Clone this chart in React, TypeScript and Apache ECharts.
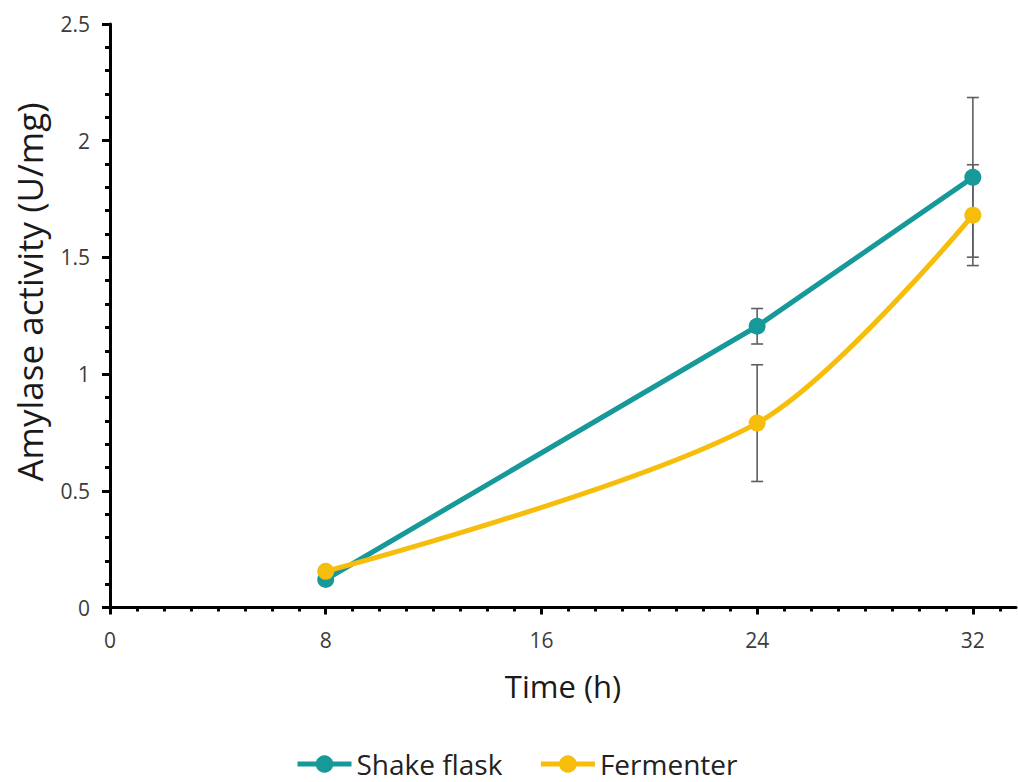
import React, { useEffect, useRef } from "react";
import * as echarts from "echarts";

const timePoints = [8, 24, 32];
const shakeFlask = [0.12, 1.205, 1.843];
const fermenter = [0.155, 0.79, 1.681];
const shakeFlaskErr = [0, 0.076, 0.342];
const fermenterErr = [0, 0.25, 0.216];

const xMajorTicks = [0, 8, 16, 24, 32];
const xMinorTicks = [0, 1, 2, 3, 4, 5, 6, 7, 8, 9, 10, 11, 12, 13, 14, 15, 16, 17, 18, 19, 20, 21, 22, 23, 24, 25, 26, 27, 28, 29, 30, 31, 32, 33];

const TEAL = "#17999A";
const GOLD = "#F7BD0B";
const FONT = "Open Sans";

function errorSeries(name: string, values: number[], errs: number[]) {
  const data = timePoints.map((t, i) => [t, values[i], errs[i]]);
  return {
    type: "custom",
    name: name + " error",
    xAxisIndex: 0,
    yAxisIndex: 0,
    z: 1,
    silent: true,
    data,
    renderItem: (params: any, api: any) => {
      const x = api.value(0);
      const y = api.value(1);
      const e = api.value(2);
      if (!e) return { type: "group", children: [] };
      const top = api.coord([x, y + e]);
      const bot = api.coord([x, y - e]);
      const cap = 6;
      const style = { stroke: "#5f5f5f", lineWidth: 1.6 };
      return {
        type: "group",
        children: [
          { type: "line", shape: { x1: top[0], y1: top[1], x2: bot[0], y2: bot[1] }, style },
          { type: "line", shape: { x1: top[0] - cap, y1: top[1], x2: top[0] + cap, y2: top[1] }, style },
          { type: "line", shape: { x1: bot[0] - cap, y1: bot[1], x2: bot[0] + cap, y2: bot[1] }, style },
        ],
      };
    },
  };
}

export default function App() {
  const ref = useRef<HTMLDivElement>(null);
  useEffect(() => {
    if (!ref.current) return;
    const chart = echarts.init(ref.current, undefined, { renderer: "svg" });
    const axisCommon = {
      type: "value",
      min: 0,
      max: 33.6,
      position: "bottom",
      splitLine: { show: false },
    };
    chart.setOption({
      animation: false,
      backgroundColor: "#ffffff",
      grid: { left: 110, right: 2, top: 24, bottom: 174.5, containLabel: false },
      legend: {
        data: ["Shake flask", "Fermenter"],
        left: 290,
        top: 745,
        itemWidth: 54,
        itemHeight: 22,
        itemGap: 36,
        lineStyle: { width: 5 },
        textStyle: { fontFamily: FONT, fontSize: 28, color: "#222222" },
      },
      xAxis: [
        {
          ...axisCommon,
          axisLine: { show: true, lineStyle: { color: "#000", width: 3 } },
          axisTick: { show: true, length: 7, customValues: xMajorTicks, lineStyle: { color: "#000", width: 3 } },
          axisLabel: {
            show: true,
            customValues: xMajorTicks,
            margin: 22,
            fontFamily: FONT,
            fontSize: 21,
            color: "#3c3c3c",
          },
          name: "Time (h)",
          nameLocation: "middle",
          nameGap: 63,
          nameTextStyle: { fontFamily: FONT, fontSize: 31, color: "#1a1a1a" },
        },
        {
          ...axisCommon,
          axisLine: { show: false },
          axisTick: { show: true, length: 4, customValues: xMinorTicks, lineStyle: { color: "#000", width: 3 } },
          axisLabel: { show: false },
        },
      ],
      yAxis: {
        type: "value",
        min: 0,
        max: 2.5,
        interval: 0.5,
        splitLine: { show: false },
        axisLine: { show: true, lineStyle: { color: "#000", width: 3 } },
        axisTick: { show: true, length: 8, lineStyle: { color: "#000", width: 3 } },
        minorTick: { show: true, splitNumber: 5, length: 5, lineStyle: { color: "#000", width: 3 } },
        axisLabel: { margin: 20, fontFamily: FONT, fontSize: 21, color: "#3c3c3c" },
      },
      graphic: [
        {
          type: "text",
          x: 29,
          y: 292,
          rotation: Math.PI / 2,
          style: {
            text: "Amylase activity (U/mg)",
            fontFamily: FONT,
            fontSize: 35,
            fill: "#1a1a1a",
            align: "center",
            verticalAlign: "middle",
          },
        },
      ],
      series: [
        errorSeries("Shake flask", shakeFlask, shakeFlaskErr),
        errorSeries("Fermenter", fermenter, fermenterErr),
        {
          name: "Shake flask",
          type: "line",
          xAxisIndex: 0,
          data: timePoints.map((t, i) => [t, shakeFlask[i]]),
          symbol: "circle",
          symbolSize: 17,
          z: 2,
          itemStyle: { color: TEAL },
          lineStyle: { color: TEAL, width: 5 },
        },
        {
          name: "Fermenter",
          type: "line",
          xAxisIndex: 0,
          smooth: 0.3,
          data: timePoints.map((t, i) => [t, fermenter[i]]),
          symbol: "circle",
          symbolSize: 17,
          z: 3,
          itemStyle: { color: GOLD },
          lineStyle: { color: GOLD, width: 5 },
        },
      ],
    });
    return () => chart.dispose();
  }, []);
  return <div ref={ref} style={{ position: "fixed", left: 0, top: 0, width: 1018, height: 782 }} />;
}
